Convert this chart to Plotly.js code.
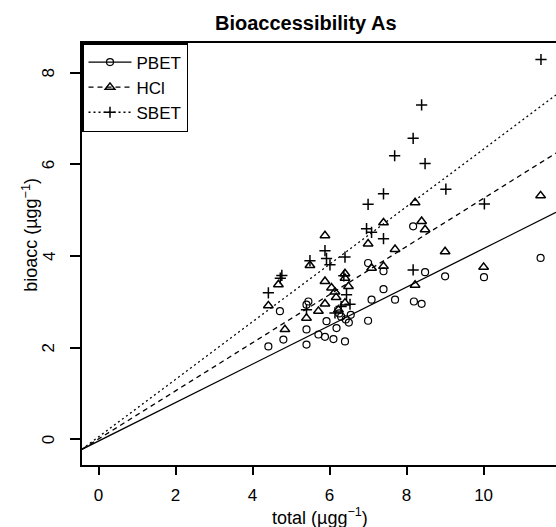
<!DOCTYPE html>
<html>
<head>
<meta charset="utf-8">
<script src="https://cdn.plot.ly/plotly-3.0.1.min.js"></script>
<style>html,body{margin:0;padding:0;background:#fff;}#chart{width:556px;height:527px;}</style>
</head>
<body>
<div id="chart"></div>
<script>
// ---- data ----
var pbetX = [11.48, 10.01, 9.00, 8.48, 8.39, 8.19, 8.17, 7.70, 7.40, 7.40, 7.09, 7.00, 7.00, 6.50, 6.42, 6.30, 6.40, 6.18, 6.10, 5.92, 5.88, 5.71, 5.45, 5.40, 5.40, 5.40, 4.80, 4.71, 4.41, 6.55, 6.25];
var pbetY = [3.96, 3.54, 3.56, 3.65, 2.96, 3.01, 4.65, 3.05, 3.67, 3.28, 3.05, 3.85, 2.59, 2.55, 2.62, 2.68, 2.14, 2.43, 2.19, 2.58, 2.24, 2.29, 3.01, 2.94, 2.40, 2.07, 2.18, 2.80, 2.03, 2.72, 2.75];

var hclX = [11.48, 10.00, 9.00, 8.48, 8.39, 8.22, 8.22, 7.70, 7.40, 7.40, 7.09, 7.00, 6.49, 6.40, 6.40, 6.14, 6.05, 6.23, 6.17, 5.88, 5.88, 5.88, 5.71, 5.49, 5.40, 4.84, 4.67, 4.41, 6.40];
var hclY = [5.32, 3.76, 4.10, 4.58, 4.76, 5.17, 3.37, 4.15, 4.73, 3.78, 3.74, 4.27, 3.34, 3.52, 3.62, 3.22, 3.31, 2.83, 3.10, 4.45, 3.45, 2.96, 2.80, 3.80, 2.65, 2.40, 3.38, 2.92, 2.98];

var sbetX = [11.49, 10.02, 9.02, 8.48, 8.39, 8.17, 8.17, 7.69, 7.40, 7.40, 7.09, 7.00, 6.96, 6.40, 6.01, 5.92, 5.88, 5.49, 6.37, 6.44, 6.53, 6.14, 5.40, 4.76, 4.72, 4.41, 6.30];
var sbetY = [8.29, 5.14, 5.46, 6.02, 7.30, 6.57, 3.70, 6.19, 5.36, 4.38, 4.52, 5.13, 4.60, 3.98, 3.81, 3.95, 4.12, 3.90, 3.57, 3.16, 2.95, 2.76, 2.83, 3.58, 3.52, 3.20, 2.90];

// fitted lines (intercept, slope)
var seriesNames = ["PBET", "HCl", "SBET"];
var fitIntercept = [-0.035, 0.011, 0.056];
var fitSlope = [0.42, 0.525, 0.628];

var xTicks = [0, 2, 4, 6, 8, 10];
var yTicks = [0, 2, 4, 6, 8];
var xRange = [-0.43, 11.88];
var yRange = [-0.557, 8.65];

// ---- styles ----
var FONT = "Liberation Sans, Arial, Helvetica, sans-serif";
var dashes = ["solid", "5px,4px", "2px,3px"];
var symbols = ["circle-open", "triangle-up-open", "cross-thin-open"];
var sizes = [7, 8.5, 8];
var mlw = [1.2, 1.5, 1.5];

function interleave(arr) {
  var out = [];
  arr.forEach(function (v, i) { if (i) out.push(null); out.push(v); });
  return out;
}

var xs = [pbetX, hclX, sbetX];
var ys = [pbetY, hclY, sbetY];
var traces = [];

// regression lines across the axis range
for (var i = 0; i < 3; i++) {
  traces.push({
    type: "scatter", mode: "lines",
    x: [xRange[0], xRange[1]],
    y: [fitIntercept[i] + fitSlope[i] * xRange[0], fitIntercept[i] + fitSlope[i] * xRange[1]],
    line: { color: "#000", width: 1.3, dash: dashes[i] },
    showlegend: false, hoverinfo: "skip"
  });
}
// points (line mode with gaps so legend shows line + symbol)
for (var j = 0; j < 3; j++) {
  traces.push({
    type: "scatter", mode: "lines+markers",
    name: seriesNames[j],
    x: interleave(xs[j]), y: interleave(ys[j]),
    connectgaps: false,
    line: { color: "#000", width: 1.3, dash: dashes[j] },
    marker: { symbol: symbols[j], size: sizes[j], color: "#000", line: { color: "#000", width: mlw[j] } }
  });
}

// rotated y tick labels (R style), placed on the y axis scale
var annotations = yTicks.map(function (v) {
  return { text: String(v), xref: "paper", yref: "y", x: -0.07, y: v,
    xanchor: "center", yanchor: "middle", textangle: -90, showarrow: false,
    font: { family: FONT, size: 17, color: "#000" } };
});
annotations.push(
  { text: "bioacc (µgg<sup>−1</sup>)", xref: "paper", yref: "paper",
    x: -0.11, y: 0.545, xanchor: "center", yanchor: "middle",
    textangle: -90, showarrow: false, font: { family: FONT, size: 18, color: "#000" } },
  { text: "total (µgg<sup>−1</sup>)", xref: "paper", yref: "paper",
    x: 0.502, y: -0.123, xanchor: "center", yanchor: "middle",
    showarrow: false, font: { family: FONT, size: 18, color: "#000" } }
);

var layout = {
  width: 556, height: 527,
  margin: { l: 82, r: 0, t: 43, b: 62, pad: 0 },
  paper_bgcolor: "#fff", plot_bgcolor: "#fff",
  font: { family: FONT, color: "#000", size: 17 },
  title: {
    text: "<b>Bioaccessibility As</b>",
    font: { family: FONT, size: 20, color: "#000" },
    x: 0.55, xanchor: "center", y: 0.956, yanchor: "middle"
  },
  xaxis: {
    range: xRange, tickvals: xTicks, ticktext: xTicks.map(String),
    showgrid: false, zeroline: false,
    showline: true, linecolor: "#000", linewidth: 2, mirror: true,
    ticks: "outside", ticklen: 8, tickwidth: 2, tickcolor: "#000",
    tickfont: { family: FONT, size: 17, color: "#000" },
    ticklabelstandoff: 6
  },
  yaxis: {
    range: yRange, tickvals: yTicks, showticklabels: false,
    showgrid: false, zeroline: false,
    showline: true, linecolor: "#000", linewidth: 2, mirror: false,
    ticks: "outside", ticklen: 10, tickwidth: 2, tickcolor: "#000"
  },
  legend: {
    x: 0, y: 1, xanchor: "left", yanchor: "top",
    bgcolor: "#fff", bordercolor: "#000", borderwidth: 1.5,
    font: { family: FONT, size: 17, color: "#000" },
    itemwidth: 43, tracegroupgap: 0
  },
  annotations: annotations
};

Plotly.newPlot("chart", traces, layout, { displayModeBar: false, staticPlot: true });
</script>
</body>
</html>
